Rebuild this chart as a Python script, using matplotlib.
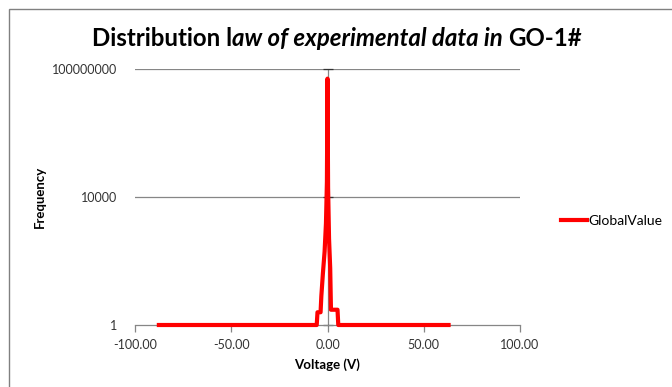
import numpy as np
import matplotlib
matplotlib.use("Agg")
import matplotlib.pyplot as plt
from matplotlib.patches import Rectangle

# Data (voltage in V, frequency, log scale)
voltage = [-87.6, -60.0, -30.0, -10.0, -5.6, -5.2, -3.6, -3.2, -2.4, -1.5, -0.8, -0.3,
           0.0, 0.3, 0.8, 1.4, 1.8, 3.5, 5.2, 5.6, 10.0, 30.0, 62.9]
frequency = [1, 1, 1, 1, 1, 2.5, 2.5, 8, 40, 200, 1500, 3e4,
             5e7, 2e4, 500, 60, 3, 3, 3, 1, 1, 1, 1]

x_ticks = [-100, -50, 0, 50, 100]
x_tick_labels = ["-100.00", "-50.00", "0.00", "50.00", "100.00"]
y_ticks = [1, 1e4, 1e8]
y_tick_labels = ["1", "10000", "100000000"]

title_parts = [("Distribution l", "normal"),
               ("aw of experimental data in ", "italic"),
               ("GO-1#", "normal")]

plt.rcParams["font.family"] = ["Lato", "DejaVu Sans"]

W, H = 672, 387
fig = plt.figure(figsize=(W / 100, H / 100), dpi=100)
fig.patch.set_facecolor("white")

# chart area border (cropped on the right and bottom)
fig.patches.append(Rectangle((9 / W, -0.1), 1.2, 1 - 9 / H + 0.1, transform=fig.transFigure,
                             fill=False, edgecolor="#808080", linewidth=1.0))

ax = fig.add_axes([135 / W, 1 - 325 / H, 385 / W, 256 / H])
ax.set_xlim(-100, 100)
ax.set_yscale("log")
ax.set_ylim(1, 1e8)

grid_c = "#868686"
txt_c = "#333333"
for yv in y_ticks[1:]:
    ax.axhline(yv, color=grid_c, linewidth=0.9, zorder=1)
# vertical axis crosses at 0 V
ax.axvline(0, color=grid_c, linewidth=0.9, zorder=1)
ax.plot([0] * len(y_ticks), y_ticks, linestyle="none", marker="_", markersize=7,
        markeredgewidth=0.9, color=txt_c, zorder=2, clip_on=False)

ax.plot(voltage, frequency, color="#ff0000", linewidth=3, label="GlobalValue",
        zorder=3, clip_on=False)

for s in ["top", "right", "left"]:
    ax.spines[s].set_visible(False)
ax.spines["bottom"].set_color(grid_c)
ax.spines["bottom"].set_linewidth(0.9)

ax.set_xticks(x_ticks)
ax.set_xticklabels(x_tick_labels)
ax.set_yticks(y_ticks)
ax.set_yticklabels(y_tick_labels)
ax.yaxis.set_minor_locator(matplotlib.ticker.NullLocator())
ax.tick_params(axis="x", direction="out", length=5, width=0.9, color=grid_c,
               labelsize=9, labelcolor=txt_c, pad=5)
ax.tick_params(axis="y", length=0, labelsize=9, labelcolor=txt_c, pad=13)

ax.set_xlabel("Voltage (V)", fontsize=9.5, fontweight="bold")
ax.xaxis.set_label_coords(0.5, -0.156)
ax.xaxis.label.set_va("center")
ax.set_ylabel("Frequency", fontsize=9.5, fontweight="bold")
ax.yaxis.set_label_coords(-0.247, 0.5)
ax.yaxis.label.set_va("center")

ax.legend(loc="center left", bbox_to_anchor=(561 / W, 1 - 221 / H),
          bbox_transform=fig.transFigure, frameon=False, fontsize=10,
          handlelength=1.9, handletextpad=0.1, borderpad=0, borderaxespad=0)

# title with mixed styles, pieces chained one after another
prev = fig.text(92 / W, 1 - 50 / H, title_parts[0][0], fontsize=17.3,
                fontstyle=title_parts[0][1], fontweight="bold", va="bottom")
for txt, style in title_parts[1:]:
    prev = ax.annotate(txt, xy=(1, 0), xycoords=prev, va="bottom", ha="left",
                       fontsize=17.3, fontstyle=style, fontweight="bold",
                       annotation_clip=False)

fig.savefig("out.png", dpi=100)
